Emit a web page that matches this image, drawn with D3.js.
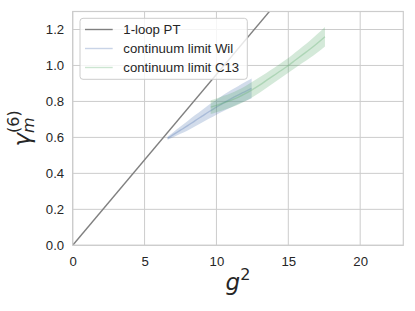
<!DOCTYPE html>
<html><head><meta charset="utf-8">
<script src="https://cdn.jsdelivr.net/npm/d3@7"></script>
<style>
html,body{margin:0;padding:0;background:#fff;}
svg{display:block;}
</style></head>
<body>
<svg id="chart" width="415" height="311"></svg>
<script>
// ---- data ----
const xTicks = [0, 5, 10, 15, 20];
const yTicks = [0.0, 0.2, 0.4, 0.6, 0.8, 1.0, 1.2];
const yTickLabels = ["0.0", "0.2", "0.4", "0.6", "0.8", "1.0", "1.2"];
const legendLabels = ["1-loop PT", "continuum limit Wil", "continuum limit C13"];

const ptG2 = [0, 14];
const ptGamma = [0, 1.33];

const wilG2  = [6.6, 7, 7.5, 8, 8.5, 9, 9.5, 10, 10.5, 11, 11.5, 12, 12.45];
const wilMid = [0.595, 0.615, 0.64, 0.665, 0.692, 0.718, 0.744, 0.768, 0.792, 0.814, 0.835, 0.855, 0.873];
const wilErr = [0.008, 0.014, 0.02, 0.026, 0.031, 0.035, 0.039, 0.042, 0.045, 0.048, 0.05, 0.053, 0.055];

const c13G2  = [9.6, 10, 10.5, 11, 11.5, 12, 12.5, 13, 13.5, 14, 14.5, 15, 15.5, 16, 16.5, 17, 17.55];
const c13Mid = [0.768, 0.778, 0.792, 0.806, 0.823, 0.843, 0.866, 0.891, 0.918, 0.945, 0.972, 1.0, 1.03, 1.06, 1.09, 1.122, 1.16];
const c13Err = [0.038, 0.038, 0.039, 0.04, 0.041, 0.042, 0.043, 0.043, 0.042, 0.041, 0.041, 0.041, 0.043, 0.045, 0.048, 0.051, 0.054];

// ---- layout ----
const L = 72.7, R = 403.3, T = 11.5, B = 245.3;
const x = d3.scaleLinear().domain([0, 23]).range([L, R]);
const y = d3.scaleLinear().domain([0, 1.3]).range([B, T]);

const blue = "#4c72b0", green = "#55a868", grey = "#808080";
const font = "'Liberation Sans', Arial, sans-serif";
const svg = d3.select("#chart");

svg.append("clipPath").attr("id", "clip").append("rect")
  .attr("x", L).attr("y", T).attr("width", R - L).attr("height", B - T);

// grid
const g = svg.append("g");
g.selectAll(".gx").data(xTicks).join("line")
  .attr("x1", d => x(d)).attr("x2", d => x(d)).attr("y1", T).attr("y2", B)
  .attr("stroke", "#cccccc").attr("stroke-width", 1);
g.selectAll(".gy").data(yTicks).join("line")
  .attr("x1", L).attr("x2", R).attr("y1", d => y(d)).attr("y2", d => y(d))
  .attr("stroke", "#cccccc").attr("stroke-width", 1);

// axes (labels only, no tick marks)
const xAxis = svg.append("g").attr("transform", `translate(0,${B})`)
  .call(d3.axisBottom(x).tickValues(xTicks).tickSize(0).tickPadding(11).tickFormat(d3.format("d")));
const yAxis = svg.append("g").attr("transform", `translate(${L},0)`)
  .call(d3.axisLeft(y).tickValues(yTicks).tickSize(0).tickPadding(8.5).tickFormat((d, i) => yTickLabels[i]));
[xAxis, yAxis].forEach(a => {
  a.select(".domain").remove();
  a.selectAll("text").attr("font-family", font).attr("font-size", "13.2px").attr("fill", "#262626");
});

// data layer
const plot = svg.append("g").attr("clip-path", "url(#clip)");

function band(xs, mid, err, color) {
  const pts = xs.map((v, i) => ({x: v, m: mid[i], e: err[i]}));
  plot.append("path").datum(pts)
    .attr("d", d3.area().x(d => x(d.x)).y0(d => y(d.m - d.e)).y1(d => y(d.m + d.e)).curve(d3.curveMonotoneX))
    .attr("fill", color).attr("fill-opacity", 0.25).attr("stroke", "none");
  plot.append("path").datum(pts)
    .attr("d", d3.line().x(d => x(d.x)).y(d => y(d.m)).curve(d3.curveMonotoneX))
    .attr("fill", "none").attr("stroke", color).attr("stroke-opacity", 0.3).attr("stroke-width", 1.4);
}
band(wilG2, wilMid, wilErr, blue);
band(c13G2, c13Mid, c13Err, green);

plot.append("path").datum(ptG2.map((v, i) => [v, ptGamma[i]]))
  .attr("d", d3.line().x(d => x(d[0])).y(d => y(d[1])))
  .attr("fill", "none").attr("stroke", grey).attr("stroke-width", 1.4);

// frame
svg.append("rect").attr("x", L).attr("y", T).attr("width", R - L).attr("height", B - T)
  .attr("fill", "none").attr("stroke", "#cccccc").attr("stroke-width", 1.2);

// legend
const lg = svg.append("g");
lg.append("rect").attr("x", 80).attr("y", 18.3).attr("width", 167.3).attr("height", 61)
  .attr("rx", 3).attr("fill", "#fff").attr("fill-opacity", 0.8).attr("stroke", "#cccccc").attr("stroke-width", 1);
const legColors = [grey, blue, green];
const legOpac = [1, 0.3, 0.3];
legendLabels.forEach((lab, i) => {
  const yy = 29.5 + i * 19;
  lg.append("line").attr("x1", 85).attr("x2", 112.7).attr("y1", yy).attr("y2", yy)
    .attr("stroke", legColors[i]).attr("stroke-opacity", legOpac[i]).attr("stroke-width", 1.4);
  lg.append("text").attr("x", 123.3).attr("y", yy).attr("dy", "0.35em")
    .attr("font-family", font).attr("font-size", "13.2px").attr("fill", "#262626").text(lab);
});

// axis labels
const mfont = "'DejaVu Sans', sans-serif";
const xl = svg.append("text").attr("x", (L + R) / 2).attr("y", 289.5).attr("text-anchor", "middle")
  .attr("font-family", mfont).attr("font-size", "23px").attr("fill", "#262626");
xl.append("tspan").attr("font-style", "italic").text("g");
xl.append("tspan").attr("font-size", "16px").attr("dy", -10).text("2");

const yl = svg.append("text").attr("transform", `translate(30,${(T + B) / 2}) rotate(-90)`)
  .attr("text-anchor", "middle").attr("font-family", mfont).attr("font-size", "23px").attr("fill", "#262626");
yl.append("tspan").attr("font-style", "italic").text("γ");
yl.append("tspan").attr("font-style", "italic").attr("font-size", "16px").attr("dy", 4).text("m");
yl.append("tspan").attr("font-size", "16px").attr("dx", -15.6).attr("dy", -15).text("(6)");
</script>
</body></html>
